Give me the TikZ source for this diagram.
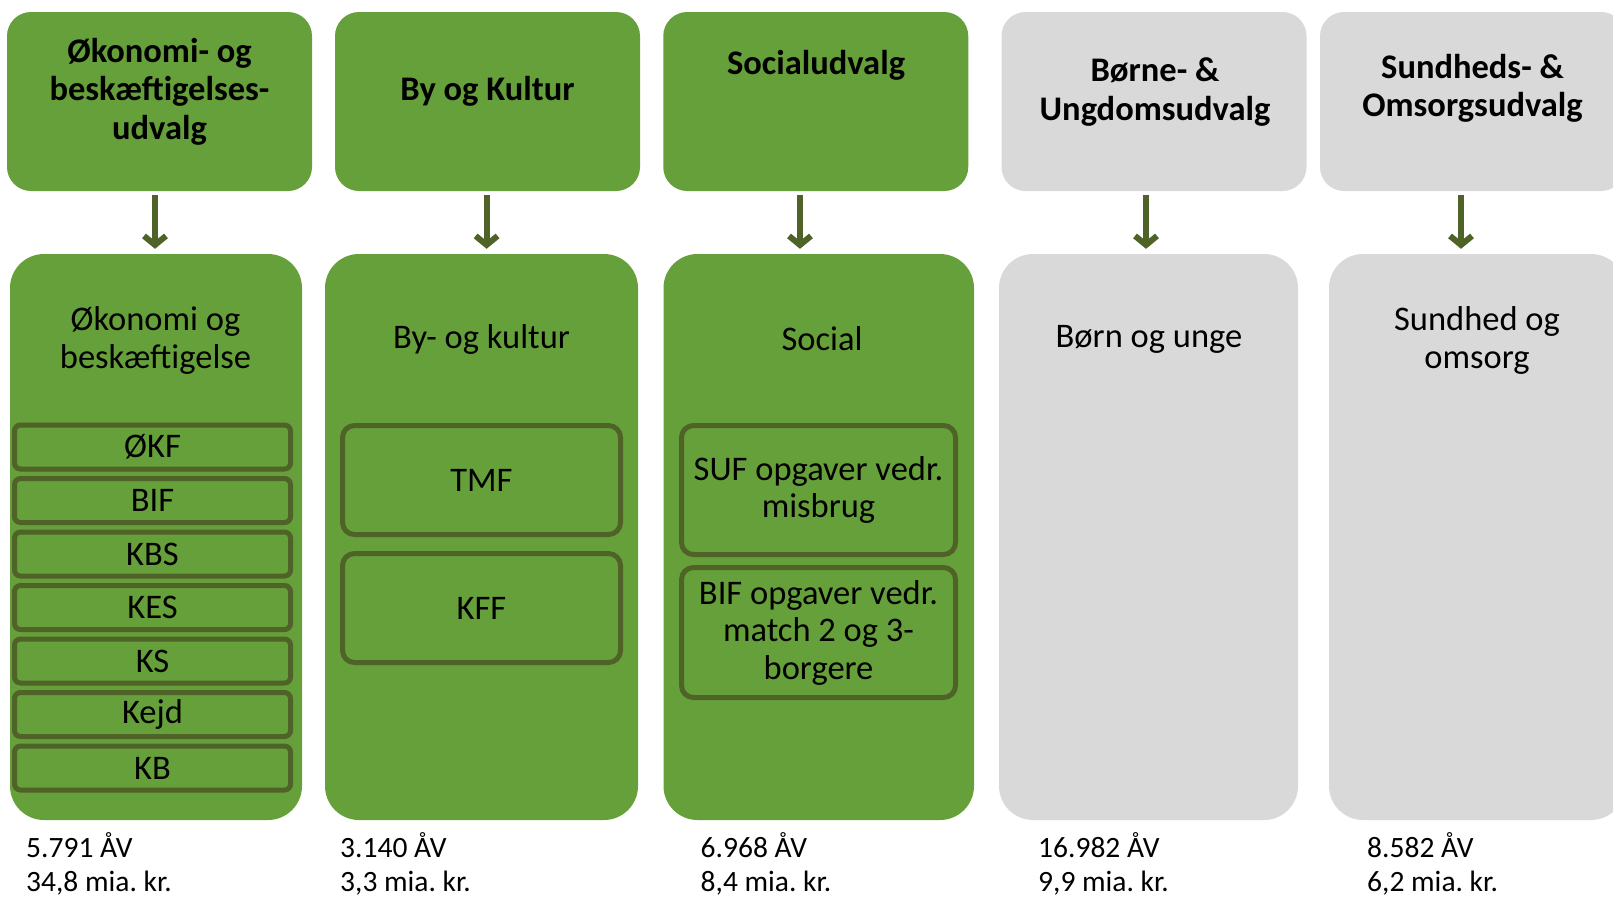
\documentclass[tikz,border=0pt]{standalone}
\usepackage{fontspec}
\setmainfont{Carlito}
\usetikzlibrary{arrows.meta,positioning}
\definecolor{udvgreen}{RGB}{102,160,58}
\definecolor{udvdark}{RGB}{79,98,40}
\definecolor{udvgray}{RGB}{217,217,217}
\frenchspacing

\begin{document}
\begin{tikzpicture}[x=1pt,y=-1pt,>={Straight Barb[length=9pt,width=22pt]},
  topbox/.style={fill=#1, rounded corners=24pt, minimum width=305pt,
    minimum height=179pt, inner sep=0pt},
  areabox/.style={fill=#1, rounded corners=34pt, minimum height=566pt, inner sep=0pt},
  subbox/.style={draw=udvdark, line width=5pt, fill=udvgreen, inner sep=0pt,
    align=center, font=\fontsize{34.5}{37.5}\selectfont},
  titletext/.style={align=center, inner sep=0pt, font=\fontsize{34.5}{38.5}\selectfont\bfseries},
  areatext/.style={align=center, inner sep=0pt, font=\fontsize{34.5}{38}\selectfont},
  keytext/.style={align=left, anchor=west, inner sep=0pt, font=\fontsize{29.5}{34}\selectfont},
  arr/.style={->, draw=udvdark, line width=6pt, shorten <=4pt, shorten >=5pt}]

\useasboundingbox (0,0) rectangle (1613,898);
\clip (0,0) rectangle (1613,898);

% udvalg
\node[topbox=udvgreen] (t1) at (159.5,101.5) {};
\node[topbox=udvgreen] (t2) at (487.5,101.5) {};
\node[topbox=udvgreen] (t3) at (815.75,101.5) {};
\node[topbox=udvgray]  (t4) at (1154,101.5) {};
\node[topbox=udvgray]  (t5) at (1472.5,101.5) {};

\node[titletext] (t1txt) at (159.5,91.5) {Økonomi- og\\beskæftigelses-\\udvalg};
\node[titletext] (t2txt) at (487.5,91.5) {By og Kultur};
\node[titletext] (t3txt) at (816,65) {Socialudvalg};
\node[titletext] (t4txt) at (1155,92) {Børne- \&\\Ungdomsudvalg};
\node[titletext] (t5txt) at (1472.5,88.5) {Sundheds- \&\\Omsorgsudvalg};

% omraader
\node[areabox=udvgreen, minimum width=292pt]   (b1) at (156,537) {};
\node[areabox=udvgreen, minimum width=313pt]   (b2) at (481.5,537) {};
\node[areabox=udvgreen, minimum width=310.5pt] (b3) at (818.75,537) {};
\node[areabox=udvgray,  minimum width=299pt]   (b4) at (1148.5,537) {};
\node[areabox=udvgray,  minimum width=296pt]   (b5) at (1477,537) {};

\node[areatext] (b1txt) at (155.5,340) {Økonomi og\\beskæftigelse};
\node[areatext] (b2txt) at (481.5,339) {By- og kultur};
\node[areatext] (b3txt) at (822,339) {Social};
\node[areatext] (b4txt) at (1149,339) {Børn og unge};
\node[areatext] (b5txt) at (1477,340) {Sundhed og\\omsorg};

% arrows
\foreach \i/\ax in {1/155,2/486.6,3/800,4/1146,5/1461}
  \draw[arr] (t\i.south -| \ax,0) -- (b\i.north -| \ax,0);

% forvaltninger
\foreach \lbl [count=\i] in {ØKF,BIF,KBS,KES,KS,Kejd,KB}
  \node[subbox, minimum width=276pt, minimum height=44pt, rounded corners=6pt]
    (s1\i) at (152.5,{447+53.5*(\i-1)}) {\lbl};

\node[subbox, minimum width=278pt, minimum height=109pt, rounded corners=12pt]
  (s21) at (481.5,480) {TMF};
\node[subbox, minimum width=278pt, minimum height=109pt, rounded corners=12pt]
  (s22) at (481.5,608) {KFF};

\node[subbox, minimum width=274pt, minimum height=129pt, rounded corners=12pt]
  (s31) at (818.5,490) {SUF opgaver vedr.\\misbrug};
\node[subbox, minimum width=274pt, minimum height=130pt, rounded corners=12pt]
  (s32) at (818.5,632.5) {BIF opgaver vedr.\\match 2 og 3-\\borgere};

% AV og budget
\node[keytext] (k1) at (26,864) {5.791 ÅV\\34,8 mia. kr.};
\node[keytext] (k2) at (340,864) {3.140 ÅV\\3,3 mia. kr.};
\node[keytext] (k3) at (700.5,864) {6.968 ÅV\\8,4 mia. kr.};
\node[keytext] (k4) at (1038,864) {16.982 ÅV\\9,9 mia. kr.};
\node[keytext] (k5) at (1367,864) {8.582 ÅV\\6,2 mia. kr.};

\end{tikzpicture}
\end{document}
